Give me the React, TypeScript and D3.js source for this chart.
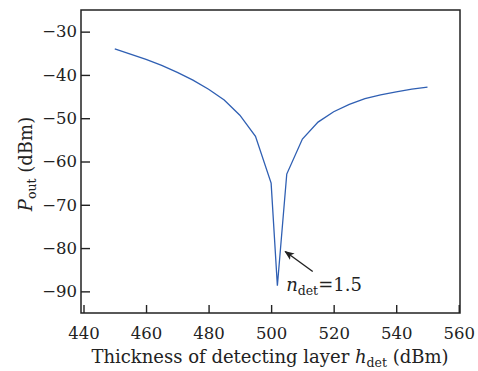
import React, { useEffect, useRef } from 'react';
import * as d3 from 'd3';

// thickness (nm) and output power (dBm)
const thickness = [450, 455, 460, 465, 470, 475, 480, 485, 490, 495, 500, 502, 505, 510, 515, 520, 525, 530, 535, 540, 545, 550];
const power = [-34, -35.2, -36.4, -37.8, -39.4, -41.2, -43.3, -45.8, -49.3, -54.2, -65, -88.7, -62.9, -54.8, -50.9, -48.5, -46.8, -45.5, -44.6, -43.9, -43.3, -42.8];
const xTicks = [440, 460, 480, 500, 520, 540, 560];
const yTicks = [-30, -40, -50, -60, -70, -80, -90];

const App = () => {
    const svgRef = useRef<SVGSVGElement>(null);

    useEffect(() => {
        const W = 478, H = 371;
        const left = 81, right = 460, top = 10, bottom = 313;
        const font = '"DejaVu Serif", serif';
        const svg = d3.select(svgRef.current).html('')
            .attr('width', W).attr('height', H);

        const x = d3.scaleLinear().domain([439.2, 560.4]).range([left, right]);
        const y = d3.scaleLinear().domain([-95, -25]).range([bottom, top]);

        // ticks point inward, labels outside
        const gx = svg.append('g')
            .attr('transform', `translate(0,${bottom})`)
            .call(d3.axisBottom(x).tickValues(xTicks).tickSizeInner(-8).tickSizeOuter(0).tickPadding(14));
        const gy = svg.append('g')
            .attr('transform', `translate(${left},0)`)
            .call(d3.axisLeft(y).tickValues(yTicks).tickSizeInner(-9).tickSizeOuter(0).tickPadding(4)
                .tickFormat(d => '\u2212' + Math.abs(+d)));
        [gx, gy].forEach(g => {
            g.select('.domain').remove();
            g.selectAll('line').attr('stroke', '#222').attr('stroke-width', 1.4);
            g.selectAll('text').attr('font-family', font).attr('font-size', 16.5).attr('fill', '#222');
        });

        svg.append('rect')
            .attr('x', left).attr('y', top)
            .attr('width', right - left).attr('height', bottom - top)
            .attr('fill', 'none').attr('stroke', '#222').attr('stroke-width', 1.5);

        const line = d3.line<number>()
            .x((d, i) => x(thickness[i]))
            .y(d => y(d));
        svg.append('path')
            .datum(power)
            .attr('d', line)
            .attr('fill', 'none')
            .attr('stroke', '#2f5fb3')
            .attr('stroke-width', 1.3);

        // annotation arrow
        const defs = svg.append('defs');
        defs.append('marker')
            .attr('id', 'arr').attr('viewBox', '0 0 10 10')
            .attr('refX', 9).attr('refY', 5)
            .attr('markerWidth', 7).attr('markerHeight', 7)
            .attr('orient', 'auto')
            .append('path').attr('d', 'M0,1 L10,5 L0,9 L2.5,5 Z').attr('fill', '#222');
        svg.append('line')
            .attr('x1', x(513.3)).attr('y1', y(-85.4))
            .attr('x2', x(504.5)).attr('y2', y(-80.8))
            .attr('stroke', '#222').attr('stroke-width', 1.4)
            .attr('marker-end', 'url(#arr)');

        const ann = svg.append('text')
            .attr('x', x(504.8)).attr('y', 291)
            .attr('font-family', font).attr('font-size', 18).attr('fill', '#222');
        ann.append('tspan').attr('font-style', 'italic').text('n');
        ann.append('tspan').attr('font-size', 12.5).attr('dy', 4).text('det');
        ann.append('tspan').attr('dy', -4).text('=1.5');

        // axis titles
        const xt = svg.append('text')
            .attr('x', 270).attr('y', 363)
            .attr('text-anchor', 'middle')
            .attr('font-family', font).attr('font-size', 18).attr('fill', '#222');
        xt.append('tspan').text('Thickness of detecting layer ');
        xt.append('tspan').attr('font-style', 'italic').text('h');
        xt.append('tspan').attr('font-size', 12.5).attr('dy', 3.5).text('det');
        xt.append('tspan').attr('dy', -3.5).text(' (dBm)');

        const yt = svg.append('text')
            .attr('transform', 'translate(32,164) rotate(-90)')
            .attr('text-anchor', 'middle')
            .attr('font-family', font).attr('font-size', 18).attr('fill', '#222');
        yt.append('tspan').attr('font-style', 'italic').text('P');
        yt.append('tspan').attr('font-size', 12.5).attr('dy', 4).text('out');
        yt.append('tspan').attr('dy', -4).text(' (dBm)');
    }, []);

    return (
        <div style={{ position: 'absolute', left: 0, top: 0 }}>
            <svg ref={svgRef}></svg>
        </div>
    );
};

export default App;
